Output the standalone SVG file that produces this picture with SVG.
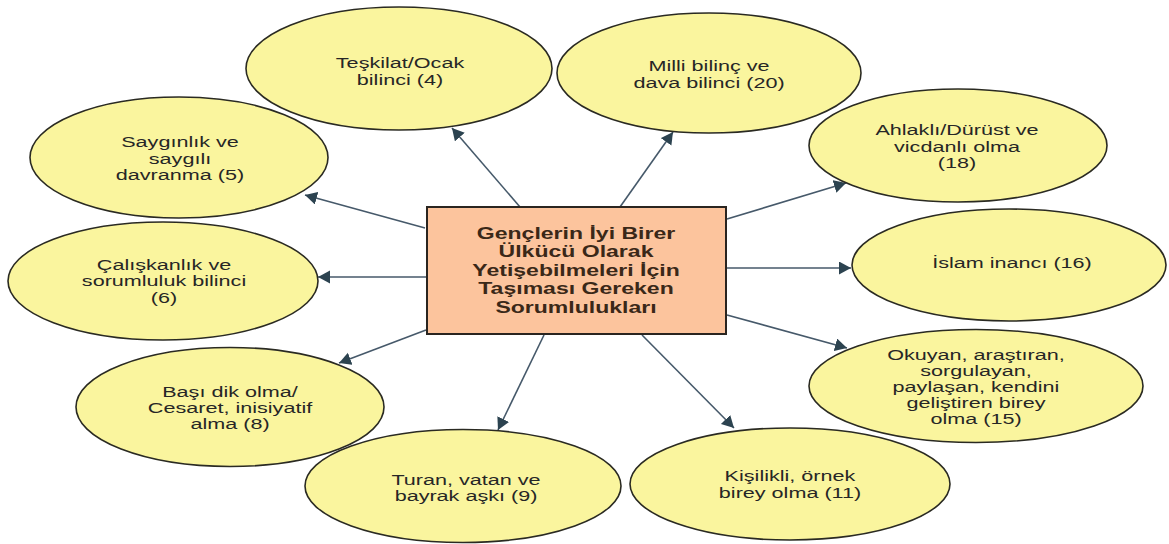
<svg xmlns="http://www.w3.org/2000/svg" width="1169" height="544" viewBox="0 0 1169 544">
<style>
.bg{fill:#ffffff}
.ell{fill:#faf59e;stroke:#2a2a22;stroke-width:1.6}
.box{fill:#fcc49d;stroke:#2a2520;stroke-width:2}
.t{font-family:"Liberation Sans",Arial,sans-serif;font-size:14.4px;fill:#262626;text-anchor:middle}
.bt{font-family:"Liberation Sans",Arial,sans-serif;font-size:16px;font-weight:bold;fill:#3a2818;text-anchor:middle}
.c{stroke:#46596a;stroke-width:1.6;fill:none;marker-end:url(#ah)}
</style>
<defs>
<marker id="ah" markerUnits="userSpaceOnUse" markerWidth="14" markerHeight="14" refX="12" refY="6.5" orient="auto">
<path d="M0,0 L12,6.5 L0,13 z" fill="#2c4350"/>
</marker>
</defs>
<rect class="bg" x="0" y="0" width="1169" height="544"/>
<g id="connectors">
<line class="c" x1="425" y1="228" x2="305" y2="195"/>
<line class="c" x1="520" y1="207" x2="452" y2="128"/>
<line class="c" x1="620" y1="207" x2="673" y2="132"/>
<line class="c" x1="727" y1="219" x2="846" y2="183"/>
<line class="c" x1="727" y1="268" x2="851" y2="268"/>
<line class="c" x1="727" y1="315" x2="847" y2="348"/>
<line class="c" x1="642" y1="335" x2="734" y2="428"/>
<line class="c" x1="544" y1="335" x2="498" y2="430"/>
<line class="c" x1="426" y1="330" x2="339" y2="363"/>
<line class="c" x1="426" y1="277" x2="318" y2="277"/>
</g>
<g id="n-teskilat">
<ellipse class="ell" cx="399" cy="68.5" rx="153" ry="61.5"/>
<text class="t" transform="matrix(1.5,0,0,1,400,0)"><tspan x="0" y="68">Teşkilat/Ocak</tspan><tspan x="0" y="85">bilinci (4)</tspan></text>
</g>
<g id="n-milli">
<ellipse class="ell" cx="709" cy="73" rx="152" ry="60"/>
<text class="t" transform="matrix(1.5,0,0,1,709,0)"><tspan x="0" y="71.5">Milli bilinç ve</tspan><tspan x="0" y="88">dava bilinci (20)</tspan></text>
</g>
<g id="n-saygi">
<ellipse class="ell" cx="179" cy="157.5" rx="149" ry="60.5"/>
<text class="t" transform="matrix(1.5,0,0,1,180,0)"><tspan x="0" y="147">Saygınlık ve</tspan><tspan x="0" y="164">saygılı</tspan><tspan x="0" y="180.5">davranma (5)</tspan></text>
</g>
<g id="n-ahlak">
<ellipse class="ell" cx="958" cy="145.5" rx="149" ry="56.5"/>
<text class="t" transform="matrix(1.5,0,0,1,957,0)"><tspan x="0" y="135">Ahlaklı/Dürüst ve</tspan><tspan x="0" y="152">vicdanlı olma</tspan><tspan x="0" y="168">(18)</tspan></text>
</g>
<g id="n-calis">
<ellipse class="ell" cx="163" cy="281" rx="155" ry="59"/>
<text class="t" transform="matrix(1.5,0,0,1,164,0)"><tspan x="0" y="270">Çalışkanlık ve</tspan><tspan x="0" y="286.5">sorumluluk bilinci</tspan><tspan x="0" y="303">(6)</tspan></text>
</g>
<g id="n-islam">
<ellipse class="ell" cx="1009" cy="265" rx="157" ry="56"/>
<text class="t" transform="matrix(1.5,0,0,1,1012,0)"><tspan x="0" y="268">İslam inancı (16)</tspan></text>
</g>
<g id="n-okuyan">
<ellipse class="ell" cx="976" cy="386" rx="167" ry="56.5"/>
<text class="t" transform="matrix(1.5,0,0,1,976,0)"><tspan x="0" y="360">Okuyan, araştıran,</tspan><tspan x="0" y="376">sorgulayan,</tspan><tspan x="0" y="392">paylaşan, kendini</tspan><tspan x="0" y="408">geliştiren birey</tspan><tspan x="0" y="424">olma (15)</tspan></text>
</g>
<g id="n-basi">
<ellipse class="ell" cx="230" cy="407" rx="154" ry="59.5"/>
<text class="t" transform="matrix(1.5,0,0,1,230,0)"><tspan x="0" y="397.5">Başı dik olma/</tspan><tspan x="0" y="413">Cesaret, inisiyatif</tspan><tspan x="0" y="429">alma (8)</tspan></text>
</g>
<g id="n-turan">
<ellipse class="ell" cx="463" cy="486" rx="158" ry="56.5"/>
<text class="t" transform="matrix(1.5,0,0,1,466,0)"><tspan x="0" y="485">Turan, vatan ve</tspan><tspan x="0" y="501.5">bayrak aşkı (9)</tspan></text>
</g>
<g id="n-kisilik">
<ellipse class="ell" cx="790" cy="484" rx="160" ry="56"/>
<text class="t" transform="matrix(1.5,0,0,1,790,0)"><tspan x="0" y="481.5">Kişilikli, örnek</tspan><tspan x="0" y="498">birey olma (11)</tspan></text>
</g>
<g id="n-center">
<rect class="box" x="427" y="207" width="299" height="127"/>
<text class="bt" transform="matrix(1.44,0,0,1,576,0)"><tspan x="0" y="239">Gençlerin İyi Birer</tspan><tspan x="0" y="257.5">Ülkücü Olarak</tspan><tspan x="0" y="276">Yetişebilmeleri İçin</tspan><tspan x="0" y="294.5">Taşıması Gereken</tspan><tspan x="0" y="313">Sorumlulukları</tspan></text>
</g>
</svg>
